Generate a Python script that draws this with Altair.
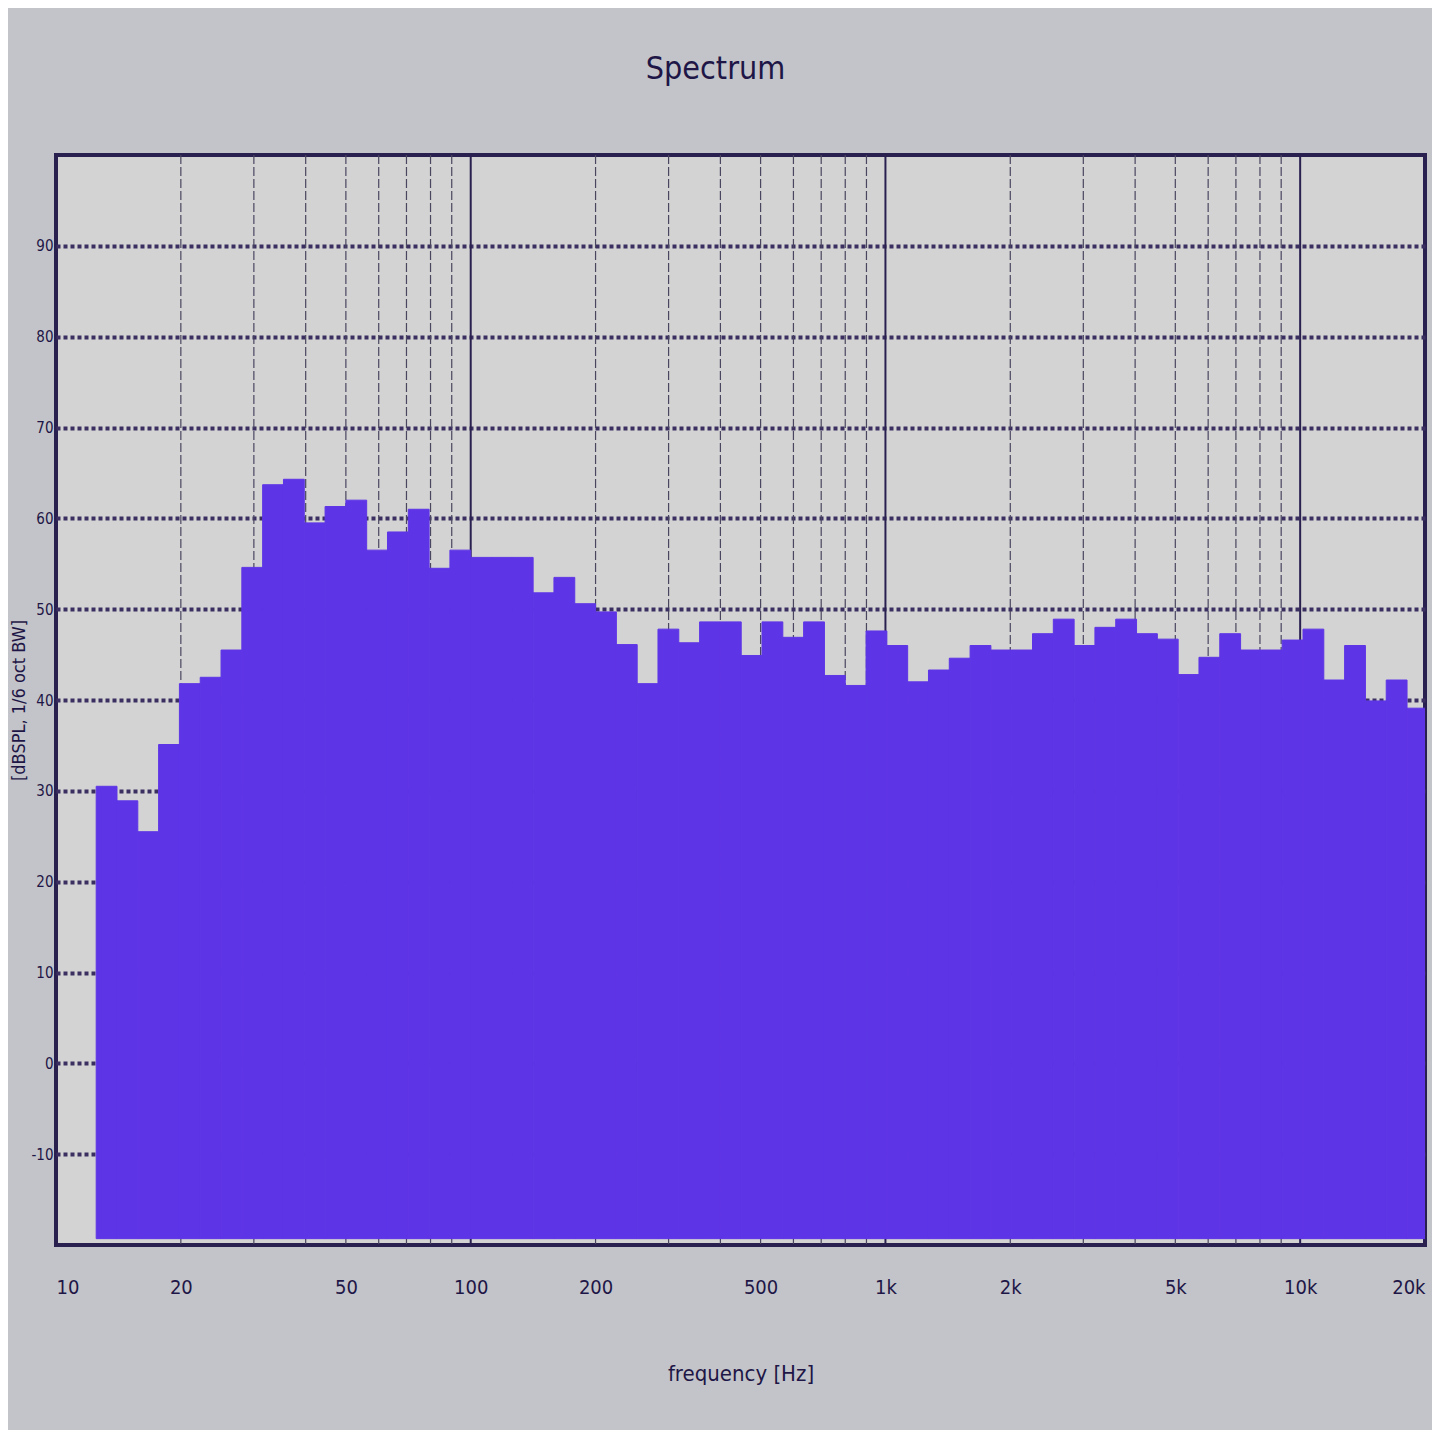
import altair as alt
import pandas as pd

# 1/6-octave band levels, dB SPL (64 bands from 12.5 Hz upward)
levels = [
    30.5, 28.9, 25.5, 35.1, 41.8, 42.5, 45.5, 54.6, 63.7, 64.3,
    59.5, 61.3, 62.0, 56.5, 58.5, 61.0, 54.5, 56.5,
    55.7, 55.7, 55.7, 51.8, 53.5, 50.6, 49.7, 46.1, 41.8, 47.8,
    46.3, 48.6, 48.6, 44.9, 48.6, 46.9, 48.6, 42.7, 41.6, 47.6,
    46.0, 42.0, 43.3, 44.6, 46.0, 45.5, 45.5, 47.3, 48.9, 46.0,
    48.0, 48.9, 47.3, 46.7, 42.8, 44.7, 47.3, 45.5, 45.5, 46.6,
    47.8, 42.2, 46.0, 39.9, 42.2, 39.1,
]
band_start_hz = 12.5
bands_per_octave = 6
floor_db = -19.3

x_tick_values = [10, 20, 50, 100, 200, 500, 1000, 2000, 5000, 10000, 20000]
decade_lines = [100, 1000, 10000]
minor_lines = [20, 30, 40, 50, 60, 70, 80, 90,
               200, 300, 400, 500, 600, 700, 800, 900,
               2000, 3000, 4000, 5000, 6000, 7000, 8000, 9000]
y_tick_values = [-10, 0, 10, 20, 30, 40, 50, 60, 70, 80, 90]

edges = [band_start_hz * 2 ** (i / bands_per_octave) for i in range(len(levels) + 1)]
bars = pd.DataFrame({
    "lo": edges[:-1],
    "hi": edges[1:],
    "level": levels,
    "base": [floor_db] * len(levels),
})

FONT = "Liberation Sans Narrow, DejaVu Sans Condensed, Roboto, sans-serif"
INK = "#1e1646"
BAR = "#5e35e6"

xscale = alt.Scale(type="log", domain=[10, 20000], nice=False)
yscale = alt.Scale(domain=[-20, 100], nice=False, zero=False)

minor = alt.Chart(pd.DataFrame({"f": minor_lines})).mark_rule(
    color="#4a4660", strokeWidth=1.2, strokeDash=[9, 3]
).encode(x=alt.X("f:Q", scale=xscale))

decade = alt.Chart(pd.DataFrame({"f": decade_lines})).mark_rule(
    color="#2a2050", strokeWidth=2
).encode(x=alt.X("f:Q", scale=xscale))

rects = alt.Chart(bars).mark_rect(color=BAR, stroke=BAR, strokeWidth=1, clip=True).encode(
    x=alt.X(
        "lo:Q",
        scale=xscale,
        title="frequency [Hz]",
        axis=alt.Axis(
            values=x_tick_values,
            labelExpr="datum.value >= 1000 ? format(datum.value / 1000, 'd') + 'k' : format(datum.value, 'd')",
            grid=False,
            ticks=False,
            domain=False,
            labelFontSize=20,
            labelPadding=32,
            titleFontSize=22,
            titlePadding=66,
            labelFlush=True,
        ),
    ),
    x2="hi:Q",
    y=alt.Y(
        "level:Q",
        scale=yscale,
        title="[dBSPL, 1/6 oct BW]",
        axis=alt.Axis(
            values=y_tick_values,
            labelExpr="datum.value < 0 ? '-' + abs(datum.value) : '' + datum.value",
            grid=True,
            gridDash=[4, 3],
            gridWidth=4,
            gridColor="#3a2f60",
            ticks=False,
            domain=False,
            labelFontSize=15,
            labelPadding=3,
            titleFontSize=18,
            titlePadding=2,
        ),
    ),
    y2="base:Q",
)

chart = (
    alt.layer(minor, decade, rects)
    .properties(
        width=1369,
        height=1090,
        title=alt.TitleParams("Spectrum", fontSize=32, offset=68, dx=-25, color=INK, font=FONT, fontWeight="normal"),
        autosize=alt.AutoSizeParams(type="none"),
        padding={"top": 147, "left": 48, "right": 7, "bottom": 185},
    )
    .configure(background="#c3c4c9", font=FONT)
    .configure_view(fill="#d3d3d3", stroke="#2a2050", strokeWidth=4)
    .configure_axis(labelColor=INK, titleColor=INK, labelFont=FONT, titleFont=FONT, titleFontWeight="normal")
)

chart.save("out.html", embed_options={"renderer": "svg", "actions": False})
